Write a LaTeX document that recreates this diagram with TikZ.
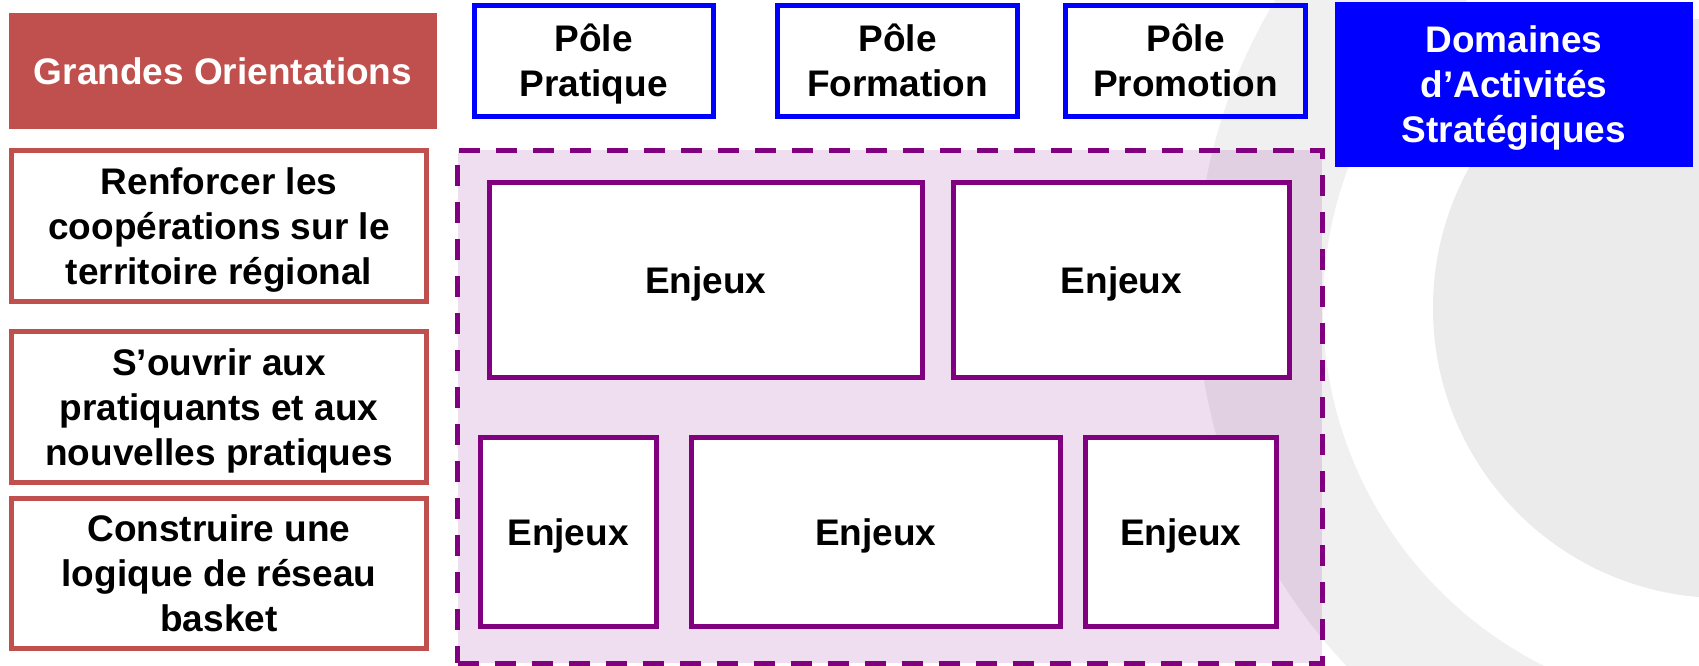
\documentclass[tikz,border=0pt]{standalone}
\usepackage{fontspec}
\setmainfont{Liberation Sans}
\definecolor{myred}{RGB}{192,80,77}
\definecolor{myblue}{RGB}{0,0,255}
\definecolor{mypurple}{RGB}{128,0,128}
\definecolor{bgouter}{RGB}{240,240,240}
\definecolor{bginner}{RGB}{235,235,235}
\newdimen\px \px=0.5pt
\begin{document}
\begin{tikzpicture}[x=0.5pt,y=-0.5pt,
  base/.style={inner sep=0pt, outer sep=0pt, line width=2.5pt, align=center,
    text depth=0pt, font=\fontsize{18.5}{22.5}\selectfont\bfseries},
  sz/.style 2 args={minimum width=#1*\px, minimum height=#2*\px},
  redbox/.style={base, draw=myred, fill=white},
  redhead/.style={base, fill=myred, text=white},
  bluebox/.style={base, draw=myblue},
  bluehead/.style={base, fill=myblue, text=white},
  enjbox/.style={base, draw=mypurple, fill=white},
  zone/.style={base, draw=mypurple, fill=mypurple, fill opacity=0.13,
    draw opacity=1, dash pattern=on 10.5pt off 8pt},
]
\useasboundingbox (0,0) rectangle (1699,665);
% background decoration
\begin{scope}
  \clip (0,0) rectangle (1699,665);
  \fill[bgouter] (1751,286) circle (555);
  \fill[white] (1723,308) circle (400);
  \fill[bginner] (1723,308) circle (290);
\end{scope}
% left column
\node[redhead, sz={428}{116}] (go) at (223,71) {Grandes Orientations};
\node[redbox, sz={415}{151}] (o1) at (219,226) {Renforcer les\\coopérations sur le\\territoire régional};
\node[redbox, sz={415}{151}] (o2) at (219,407) {S’ouvrir aux\\pratiquants et aux\\nouvelles pratiques};
\node[redbox, sz={415}{150}] (o3) at (219,573.5) {Construire une\\logique de réseau\\basket};
% top row
\node[bluebox, sz={239.5}{111}] (p1) at (593.75,61) {P\smash{ô}le\\Pratique};
\node[bluebox, sz={240}{111}] (p2) at (897.5,61) {P\smash{ô}le\\Formation};
\node[bluebox, sz={240}{111}] (p3) at (1185.5,61) {P\smash{ô}le\\Promotion};
\node[bluehead, sz={358}{165}] (das) at (1514,84.5) {Domaines\\d’Activités\\Stratégiques};
% zone
\node[zone, sz={864.5}{513}] (zone) at (889.75,406.5) {};
\node[enjbox, sz={432.5}{194.5}] (e1) at (705.75,279.75) {Enjeux};
\node[enjbox, sz={336}{194.5}] (e2) at (1121.5,279.75) {Enjeux};
\node[enjbox, sz={176}{188.5}] (e3) at (568,531.75) {Enjeux};
\node[enjbox, sz={368.5}{189}] (e4) at (875.75,532) {Enjeux};
\node[enjbox, sz={191.5}{189}] (e5) at (1180.75,532) {Enjeux};
\end{tikzpicture}
\end{document}
